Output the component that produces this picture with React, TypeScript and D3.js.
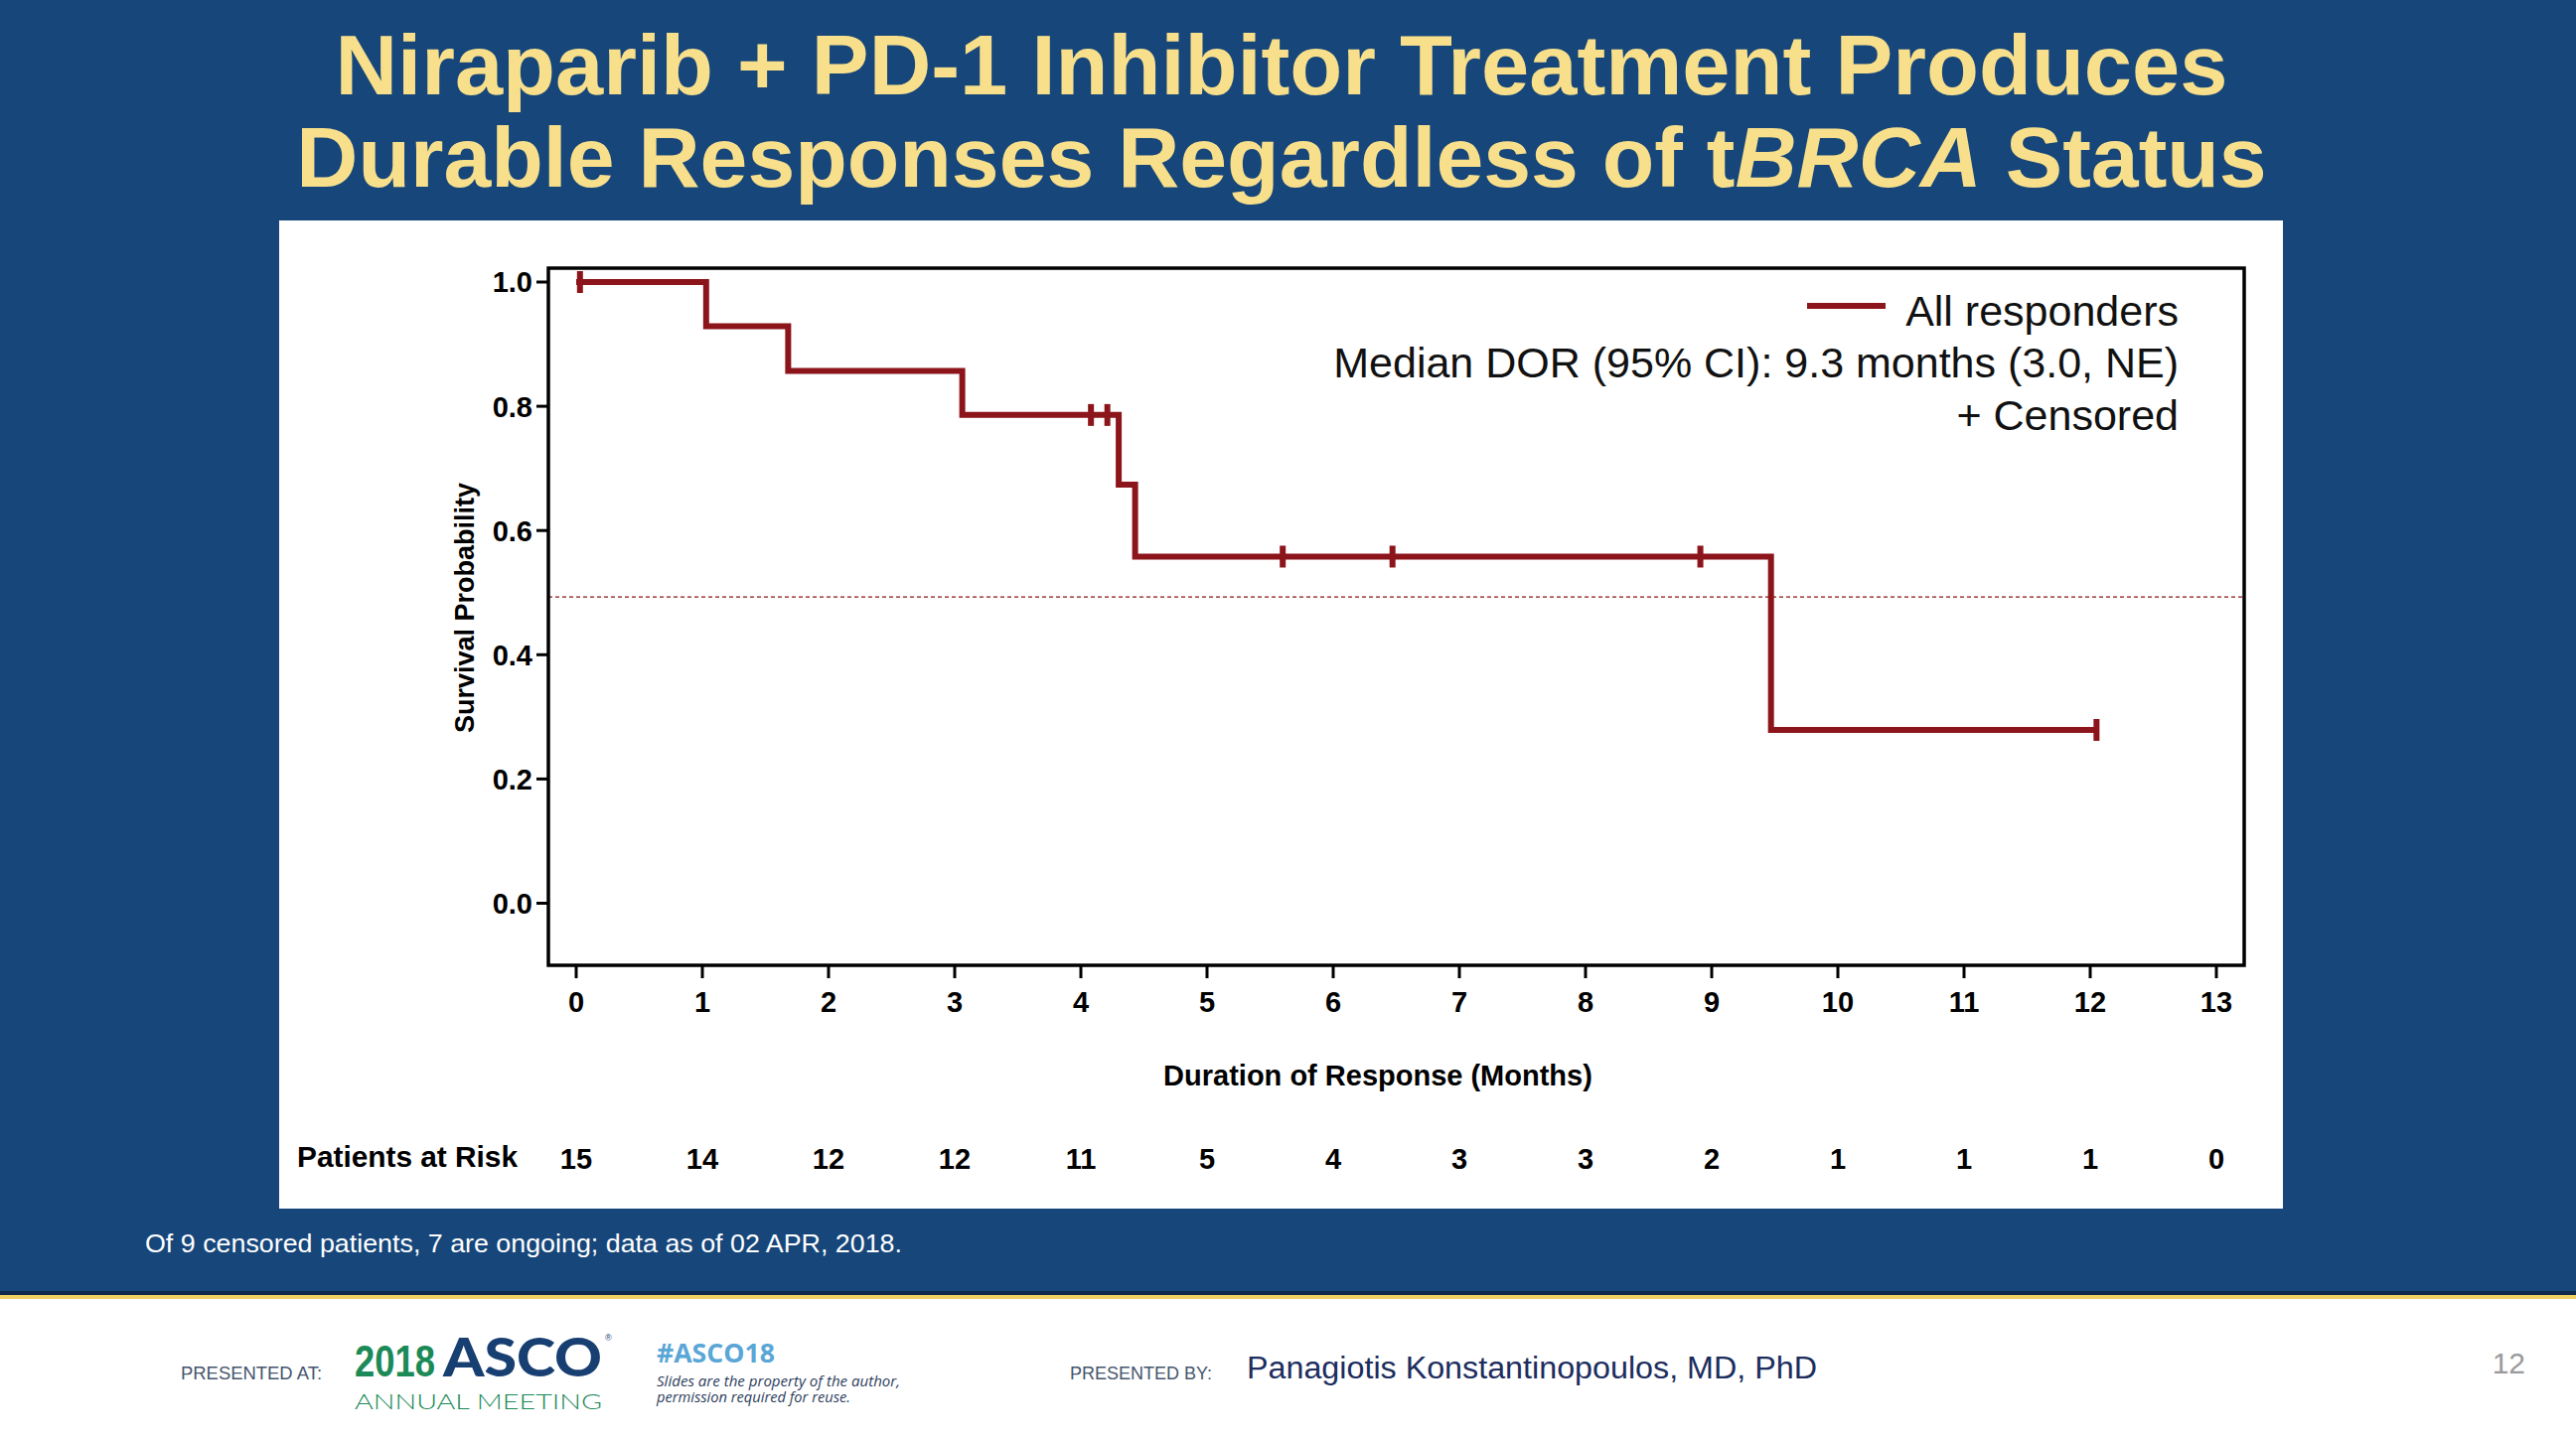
import React from "react";
import * as d3 from "d3";

// ---- data ----
const stepTimes = [0, 1.03, 1.68, 3.06, 4.3, 4.43, 9.47, 12.05];
const stepSurvival = [1.0, 0.929, 0.857, 0.786, 0.674, 0.558, 0.279, 0.279];
const censorTimes = [0.03, 4.08, 4.21, 5.6, 6.47, 8.91, 12.05];
const censorSurvival = [1.0, 0.786, 0.786, 0.558, 0.558, 0.558, 0.279];
const xTicks = [0, 1, 2, 3, 4, 5, 6, 7, 8, 9, 10, 11, 12, 13];
const yTicks = [0, 0.2, 0.4, 0.6, 0.8, 1.0];
const atRisk = [15, 14, 12, 12, 11, 5, 4, 3, 3, 2, 1, 1, 1, 0];
const medianRef = 0.493;

const titleLine1 = "Niraparib + PD-1 Inhibitor Treatment Produces";
const legendLabel = "All responders";
const medianLabel = "Median DOR (95% CI): 9.3 months (3.0, NE)";
const censorLabel = "+ Censored";
const footnote = "Of 9 censored patients, 7 are ongoing; data as of 02 APR, 2018.";

const W = 2593;
const H = 1450;
const BLUE = "#16467a";
const RED = "#8b151a";
const YELLOW = "#f8df8b";
const AR = "Liberation Sans, Arial, sans-serif";
const NARROW = "Liberation Sans Narrow, Arial Narrow, sans-serif";

export default function App() {
  const frame = { l: 552, r: 2259, t: 270, b: 972 };
  const x = d3.scaleLinear().domain([0, 13]).range([580, 2231]);
  const y = d3.scaleLinear().domain([0, 1]).range([909.5, 284]);

  const pts: [number, number][] = stepTimes.map((t, i) => [t, stepSurvival[i]]);
  const line = d3
    .line<[number, number]>()
    .x((d) => x(d[0]))
    .y((d) => y(d[1]))
    .curve(d3.curveStepAfter);

  return (
    <svg
      width={W}
      height={H}
      viewBox={`0 0 ${W} ${H}`}
      style={{ position: "absolute", left: 0, top: 0, display: "block" }}
    >
      {/* slide background */}
      <rect x={0} y={0} width={W} height={1300} fill={BLUE} />
      <rect x={0} y={1300} width={W} height={4} fill="#0e2b4d" />
      <rect x={0} y={1304} width={W} height={4} fill="#f1d062" />
      <rect x={0} y={1308} width={W} height={H - 1308} fill="#ffffff" />

      {/* title */}
      <text x={1290} y={95} textAnchor="middle" fontFamily={AR} fontWeight="bold" fontSize={86} fill={YELLOW} textLength={1905} lengthAdjust="spacingAndGlyphs">
        {titleLine1}
      </text>
      <text x={1290} y={188} textAnchor="middle" fontFamily={AR} fontWeight="bold" fontSize={86} fill={YELLOW}>
        Durable Responses Regardless of t<tspan fontStyle="italic">BRCA</tspan> Status
      </text>

      {/* white chart panel */}
      <rect x={281} y={222} width={2017} height={995} fill="#ffffff" />

      {/* median reference line */}
      <line
        x1={frame.l}
        x2={frame.r}
        y1={y(medianRef)}
        y2={y(medianRef)}
        stroke={RED}
        strokeWidth={1.3}
        strokeDasharray="4,3"
      />

      {/* KM curve */}
      <path d={line(pts) || ""} fill="none" stroke={RED} strokeWidth={6} strokeLinejoin="miter" />
      {censorTimes.map((t, i) => (
        <line
          key={"c" + i}
          x1={x(t)}
          x2={x(t)}
          y1={y(censorSurvival[i]) - 11}
          y2={y(censorSurvival[i]) + 11}
          stroke={RED}
          strokeWidth={6}
        />
      ))}

      {/* frame */}
      <rect
        x={frame.l}
        y={frame.t}
        width={frame.r - frame.l}
        height={frame.b - frame.t}
        fill="none"
        stroke="#000"
        strokeWidth={3.5}
      />

      {/* y axis */}
      {yTicks.map((v) => (
        <g key={"y" + v}>
          <line x1={frame.l - 12} x2={frame.l} y1={y(v)} y2={y(v)} stroke="#000" strokeWidth={3} />
          <text
            x={frame.l - 16}
            y={y(v)}
            dy="0.36em"
            textAnchor="end"
            fontFamily={AR}
            fontWeight="bold"
            fontSize={29}
            fill="#000"
          >
            {v.toFixed(1)}
          </text>
        </g>
      ))}
      <text
        transform={`translate(468, 612) rotate(-90)`}
        textAnchor="middle"
        dy="0.35em"
        fontFamily={AR}
        fontWeight="bold"
        fontSize={27}
        fill="#000"
      >
        Survival Probability
      </text>

      {/* x axis */}
      {xTicks.map((v) => (
        <g key={"x" + v}>
          <line x1={x(v)} x2={x(v)} y1={frame.b} y2={frame.b + 13} stroke="#000" strokeWidth={3} />
          <text
            x={x(v)}
            y={1019}
            textAnchor="middle"
            fontFamily={AR}
            fontWeight="bold"
            fontSize={29}
            fill="#000"
          >
            {v}
          </text>
        </g>
      ))}
      <text x={1387} y={1093} textAnchor="middle" fontFamily={AR} fontWeight="bold" fontSize={29} fill="#000">
        Duration of Response (Months)
      </text>

      {/* patients at risk */}
      <text x={299} y={1175} fontFamily={AR} fontWeight="bold" fontSize={29} fill="#000" textLength={222} lengthAdjust="spacingAndGlyphs">
        Patients at Risk
      </text>
      {atRisk.map((n, i) => (
        <text
          key={"r" + i}
          x={x(xTicks[i])}
          y={1177}
          textAnchor="middle"
          fontFamily={AR}
          fontWeight="bold"
          fontSize={29}
          fill="#000"
        >
          {n}
        </text>
      ))}

      {/* legend */}
      <line x1={1819} x2={1898} y1={308} y2={308} stroke={RED} strokeWidth={6} />
      <text x={2193} y={328} textAnchor="end" fontFamily={AR} fontSize={43} fill="#111">
        {legendLabel}
      </text>
      <text x={2193} y={380} textAnchor="end" fontFamily={AR} fontSize={43} fill="#111">
        {medianLabel}
      </text>
      <text x={2193} y={433} textAnchor="end" fontFamily={AR} fontSize={43} fill="#111">
        {censorLabel}
      </text>

      {/* footnote */}
      <text x={146} y={1261} fontFamily={AR} fontSize={25} fill="#ffffff" textLength={762} lengthAdjust="spacingAndGlyphs">
        {footnote}
      </text>

      {/* footer */}
      <text x={182} y={1389} fontFamily={NARROW} fontSize={19} fill="#46556e" textLength={142} lengthAdjust="spacingAndGlyphs">
        PRESENTED AT:
      </text>
      <text x={357} y={1386} fontFamily={NARROW} fontWeight="bold" fontSize={44} fill="#1b8a57" textLength={81} lengthAdjust="spacingAndGlyphs">
        2018
      </text>
      <text x={446} y={1386} fontFamily="Lato, Open Sans, sans-serif" fontWeight="900" fontSize={54} fill="#183f72" textLength={160} lengthAdjust="spacingAndGlyphs">
        ASCO
      </text>
      <text x={609} y={1350} fontFamily={AR} fontSize={9} fill="#183f72">®</text>
      <text x={357} y={1419} fontFamily="Lato, Open Sans, sans-serif" fontWeight="300" fontSize={22} fill="#1b8a57" textLength={249} lengthAdjust="spacingAndGlyphs">
        ANNUAL MEETING
      </text>
      <text x={661} y={1372} fontFamily="Open Sans, sans-serif" fontWeight="bold" fontSize={26} fill="#5aa6d6" textLength={119} lengthAdjust="spacingAndGlyphs">
        #ASCO18
      </text>
      <text x={661} y={1396} fontFamily="Open Sans, sans-serif" fontStyle="italic" fontSize={14} fill="#2c3d5c" textLength={245} lengthAdjust="spacingAndGlyphs">
        Slides are the property of the author,
      </text>
      <text x={661} y={1412} fontFamily="Open Sans, sans-serif" fontStyle="italic" fontSize={14} fill="#2c3d5c" textLength={195} lengthAdjust="spacingAndGlyphs">
        permission required for reuse.
      </text>
      <text x={1077} y={1389} fontFamily={NARROW} fontSize={19} fill="#46556e" textLength={143} lengthAdjust="spacingAndGlyphs">
        PRESENTED BY:
      </text>
      <text x={1255} y={1388} fontFamily={AR} fontSize={31} fill="#1c2d5e" textLength={574} lengthAdjust="spacingAndGlyphs">
        Panagiotis Konstantinopoulos, MD, PhD
      </text>
      <text x={2542} y={1383} textAnchor="end" fontFamily={AR} fontSize={30} fill="#9a9a9a">
        12
      </text>
    </svg>
  );
}
